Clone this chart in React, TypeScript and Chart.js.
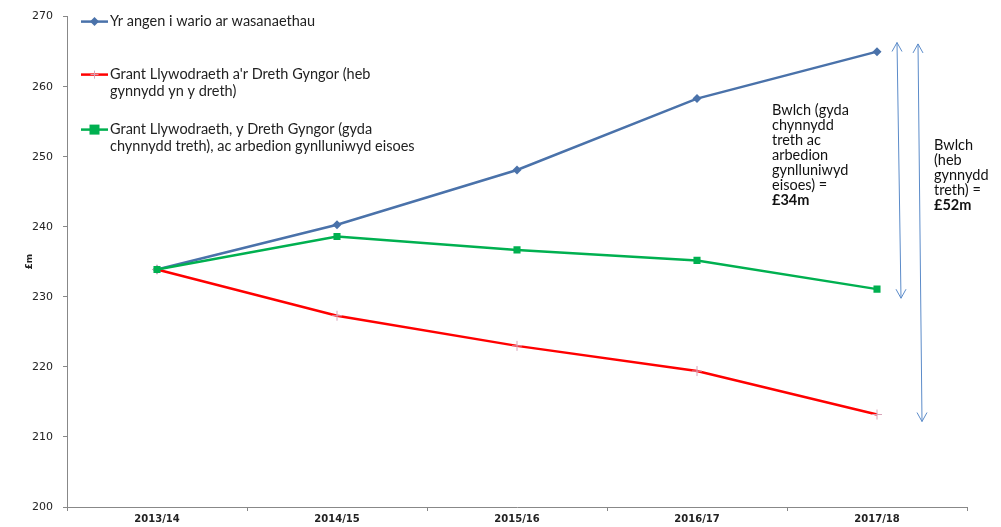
import React, { useEffect, useRef } from "react";
import { Chart, registerables } from "chart.js";

Chart.register(...registerables);

const categories = ["2013/14", "2014/15", "2015/16", "2016/17", "2017/18"];
const needSeries = [233.9, 240.3, 248.1, 258.3, 265.0];
const grantNoRise = [233.9, 227.3, 223.0, 219.4, 213.2];
const grantWithRise = [233.9, 238.6, 236.7, 235.2, 231.1];

const yAxisTitle = "£m";
const legendLabels = [
  ["Yr angen i wario ar wasanaethau"],
  ["Grant Llywodraeth a'r Dreth Gyngor (heb", "gynnydd yn y dreth)"],
  ["Grant Llywodraeth, y Dreth Gyngor (gyda", "chynnydd treth), ac arbedion gynlluniwyd eisoes"],
];
const gap1Lines = ["Bwlch (gyda", "chynnydd", "treth ac", "arbedion", "gynlluniwyd", "eisoes) ="];
const gap1Value = "£34m";
const gap2Lines = ["Bwlch", "(heb", "gynnydd", "treth) ="];
const gap2Value = "£52m";
const gap1Range = [266.3, 229.8];
const gap2Range = [266.1, 212.2];

const BLUE = "#4A72AA";
const RED = "#FF0000";
const GREEN = "#00B050";
const ARROW = "#5B8BC9";
const TEXT_FONT = "Lato, 'Open Sans', sans-serif";

function drawArrow(ctx: CanvasRenderingContext2D, x1: number, y1: number, x2: number, y2: number) {
  ctx.save();
  ctx.strokeStyle = ARROW;
  ctx.lineWidth = 1;
  ctx.beginPath();
  ctx.moveTo(x1, y1);
  ctx.lineTo(x2, y2);
  ctx.stroke();
  const head = (px: number, py: number, dir: number) => {
    ctx.beginPath();
    ctx.moveTo(px - 5, py + dir * 9);
    ctx.lineTo(px, py);
    ctx.lineTo(px + 5, py + dir * 9);
    ctx.stroke();
  };
  head(x1, y1, 1);
  head(x2, y2, -1);
  ctx.restore();
}

const overlayPlugin = {
  id: "overlay",
  afterDraw(chart: any) {
    const ctx: CanvasRenderingContext2D = chart.ctx;
    const x = chart.scales.x;
    const y = chart.scales.y;
    const area = chart.chartArea;
    ctx.save();
    // y-axis title
    ctx.save();
    ctx.translate(area.left - 37, (area.top + area.bottom) / 2);
    ctx.rotate(-Math.PI / 2);
    ctx.fillStyle = "#222";
    ctx.font = "bold 9px 'DejaVu Sans', sans-serif";
    ctx.textAlign = "center";
    ctx.textBaseline = "middle";
    ctx.fillText(yAxisTitle, 0, 0);
    ctx.restore();

    // legend
    const rows = [area.top + 5, area.top + 58, area.top + 113];
    const styles = [
      { color: BLUE, marker: "diamond" },
      { color: RED, marker: "cross" },
      { color: GREEN, marker: "square" },
    ];
    legendLabels.forEach((lines, i) => {
      const ly = rows[i];
      const lx = area.left + 14;
      ctx.strokeStyle = styles[i].color;
      ctx.lineWidth = 2.5;
      ctx.beginPath();
      ctx.moveTo(lx, ly);
      ctx.lineTo(lx + 27, ly);
      ctx.stroke();
      const cx = lx + 13.5;
      if (styles[i].marker === "diamond") {
        ctx.fillStyle = BLUE;
        ctx.beginPath();
        ctx.moveTo(cx, ly - 4.5);
        ctx.lineTo(cx + 4.5, ly);
        ctx.lineTo(cx, ly + 4.5);
        ctx.lineTo(cx - 4.5, ly);
        ctx.closePath();
        ctx.fill();
      } else if (styles[i].marker === "square") {
        ctx.fillStyle = GREEN;
        ctx.fillRect(cx - 5, ly - 5, 10, 10);
      } else {
        ctx.strokeStyle = "#D9A3B8";
        ctx.lineWidth = 1;
        ctx.beginPath();
        ctx.moveTo(cx - 4, ly);
        ctx.lineTo(cx + 4, ly);
        ctx.moveTo(cx, ly - 4);
        ctx.lineTo(cx, ly + 4);
        ctx.stroke();
      }
      ctx.fillStyle = "#222";
      ctx.font = "14.5px " + TEXT_FONT;
      ctx.textBaseline = "middle";
      ctx.textAlign = "left";
      lines.forEach((t, j) => ctx.fillText(t, lx + 29, ly + j * 16.5));
    });

    // arrows
    const lastX = x.getPixelForValue(categories.length - 1);
    drawArrow(ctx, lastX + 20, y.getPixelForValue(gap1Range[0]), lastX + 24, y.getPixelForValue(gap1Range[1]));
    drawArrow(ctx, lastX + 41, y.getPixelForValue(gap2Range[0]), lastX + 45, y.getPixelForValue(gap2Range[1]));

    // gap texts
    ctx.fillStyle = "#111";
    ctx.textBaseline = "middle";
    ctx.textAlign = "left";
    const t1x = lastX - 105;
    const t1y = y.getPixelForValue(256.6);
    ctx.font = "14.5px " + TEXT_FONT;
    gap1Lines.forEach((t, j) => ctx.fillText(t, t1x, t1y + j * 15));
    ctx.font = "bold 14.5px " + TEXT_FONT;
    ctx.fillText(gap1Value, t1x, t1y + gap1Lines.length * 15);

    const t2x = lastX + 57;
    const t2y = y.getPixelForValue(251.6);
    ctx.font = "14.5px " + TEXT_FONT;
    gap2Lines.forEach((t, j) => ctx.fillText(t, t2x, t2y + j * 15));
    ctx.font = "bold 14.5px " + TEXT_FONT;
    ctx.fillText(gap2Value, t2x, t2y + gap2Lines.length * 15);
    ctx.restore();
  },
};

export default function App() {
  const ref = useRef<HTMLCanvasElement>(null);
  useEffect(() => {
    if (!ref.current) return;
    const chart = new Chart(ref.current, {
      type: "line",
      data: {
        labels: categories,
        datasets: [
          {
            label: "Yr angen i wario ar wasanaethau",
            data: needSeries,
            order: 2,
            borderColor: BLUE,
            backgroundColor: BLUE,
            borderWidth: 2.5,
            pointStyle: "rectRot",
            pointRadius: 4.5,
            pointBackgroundColor: BLUE,
            pointBorderColor: BLUE,
            pointBorderWidth: 0,
            tension: 0,
          },
          {
            label: "Grant Llywodraeth a'r Dreth Gyngor (heb gynnydd yn y dreth)",
            data: grantNoRise,
            order: 1,
            borderColor: RED,
            backgroundColor: RED,
            borderWidth: 2.5,
            pointStyle: "cross",
            pointRadius: 5,
            pointBorderColor: "#D9A3B8",
            pointBorderWidth: 1,
            tension: 0,
          },
          {
            label: "Grant Llywodraeth, y Dreth Gyngor (gyda chynnydd treth), ac arbedion gynlluniwyd eisoes",
            data: grantWithRise,
            order: 0,
            borderColor: GREEN,
            backgroundColor: GREEN,
            borderWidth: 2.5,
            pointStyle: "rect",
            pointRadius: 5,
            pointBackgroundColor: GREEN,
            pointBorderColor: GREEN,
            pointBorderWidth: 0,
            tension: 0,
          },
        ],
      },
      options: {
        animation: false,
        responsive: false,
        maintainAspectRatio: false,
        layout: { padding: { top: 14, right: 34, left: 0, bottom: 0 } },
        plugins: { legend: { display: false }, tooltip: { enabled: false } },
        scales: {
          x: {
            offset: true,
            grid: {
              offset: true,
              drawOnChartArea: false,
              drawTicks: true,
              tickLength: 4,
              tickColor: "#888",
            },
            border: { color: "#888", width: 1 },
            ticks: {
              color: "#222",
              font: { family: "'DejaVu Sans', sans-serif", size: 10, weight: "bold" },
              padding: 2,
              maxRotation: 0,
            },
            afterFit: (s: any) => {
              s.height = 20;
            },
          },
          y: {
            min: 200,
            max: 270,
            grid: {
              drawOnChartArea: false,
              drawTicks: true,
              tickLength: 4,
              tickColor: "#888",
            },
            border: { color: "#888", width: 1 },
            ticks: {
              stepSize: 10,
              color: "#222",
              font: { family: "'DejaVu Sans', sans-serif", size: 11 },
              padding: 10,
            },
            afterFit: (s: any) => {
              s.width = 67;
            },
          },
        },
      },
      plugins: [overlayPlugin],
    });
    return () => chart.destroy();
  }, []);
  return (
    <div style={{ position: "fixed", left: 0, top: 0, width: 1001, height: 527, background: "#fff" }}>
      <canvas ref={ref} width={1001} height={527} style={{ width: 1001, height: 527 }} />
    </div>
  );
}
